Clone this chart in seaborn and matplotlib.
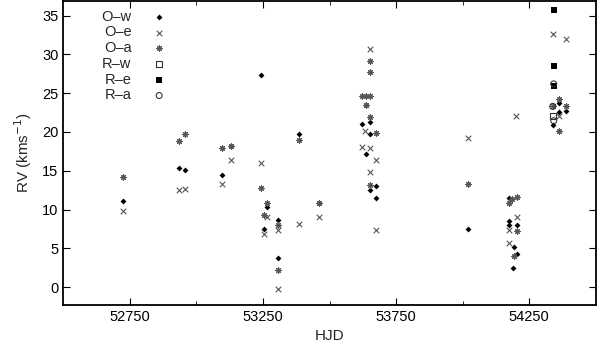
import numpy as np
import pandas as pd
import matplotlib
matplotlib.use("Agg")
import matplotlib.pyplot as plt
import matplotlib.ticker as mticker
import seaborn as sns

# radial velocities
ow_hjd = [52724, 52933, 52959, 53096, 53129, 53241, 53264, 53253, 53305, 53305,
          53387, 53462, 53636, 53652, 53622, 53652, 53636, 53652, 53674, 53674,
          54021, 54175, 54175, 54175, 54205, 54193, 54205, 54189, 54361, 54387,
          54361, 54338]
ow_rv = [11.1, 15.4, 15.1, 14.4, 18.2, 27.4, 10.3, 7.5, 8.6, 3.8,
         19.8, 10.9, 23.5, 21.3, 21.0, 19.7, 17.1, 12.5, 13.0, 11.5,
         7.45, 11.5, 8.5, 8.0, 8.0, 5.2, 4.3, 2.5, 23.7, 22.65,
         22.6, 20.9]

oe_hjd = [52724, 52933, 52959, 53129, 53096, 53241, 53264, 53253, 53305, 53305,
          53387, 53462, 53652, 53634, 53622, 53652, 53674, 53652, 53674, 54021,
          54201, 54205, 54175, 54175, 54338, 54387, 54361]
oe_rv = [9.8, 12.5, 12.7, 16.4, 13.3, 16.0, 9.0, 6.9, 7.4, -0.2,
         8.1, 9.1, 30.7, 20.1, 18.1, 17.9, 16.4, 14.8, 7.4, 19.2,
         22.1, 9.0, 7.4, 5.65, 32.6, 32.0, 22.0]

oa_hjd = [52724, 52933, 52959, 53096, 53129, 53241, 53264, 53253, 53305, 53305,
          53387, 53462, 53652, 53652, 53622, 53636, 53652, 53636, 53652, 53674,
          53652, 54021, 54184, 54205, 54175, 54205, 54193, 54361, 54338, 54387,
          54361]
oa_rv = [14.25, 18.9, 19.7, 17.9, 18.2, 12.75, 10.9, 9.25, 8.0, 2.2,
         18.95, 10.9, 29.1, 27.7, 24.6, 24.7, 24.6, 23.5, 21.9, 19.9,
         13.2, 13.3, 11.35, 11.6, 10.9, 7.2, 4.0, 24.3, 23.3, 23.3,
         20.1]

rw_hjd = [54338]
rw_rv = [22.05]
re_hjd = [54342, 54342, 54342]
re_rv = [35.7, 28.5, 25.9]
ra_hjd = [54342, 54338, 54342]
ra_rv = [26.2, 23.3, 21.45]

sns.set_style("ticks")
plt.rcParams.update({
    "font.family": ["Liberation Sans", "DejaVu Sans"],
    "xtick.direction": "in", "ytick.direction": "in",
    "xtick.top": True, "ytick.right": True,
    "axes.linewidth": 1.3, "axes.edgecolor": "black",
    "xtick.major.size": 5, "ytick.major.size": 5, "xtick.minor.size": 3,
    "xtick.color": "black", "ytick.color": "black",
    "xtick.labelsize": 10.5, "ytick.labelsize": 10.5,
})

fig = plt.figure(figsize=(5.97, 3.46), dpi=100)
ax = fig.add_axes([0.106, 0.1185, 0.892, 0.879])

groups = [
    ("O\u2013w", ow_hjd, ow_rv, dict(marker="D", s=9, color="black", linewidth=0)),
    ("O\u2013e", oe_hjd, oe_rv, dict(marker="x", s=16, color="#555555", linewidth=0.8)),
    ("O\u2013a", oa_hjd, oa_rv, dict(marker=(8, 2, 0), s=15, color="#555555", linewidth=0.8)),
    ("R\u2013w", rw_hjd, rw_rv, dict(marker="s", s=20, facecolor="none", edgecolor="#333333", linewidth=0.8)),
    ("R\u2013e", re_hjd, re_rv, dict(marker="s", s=20, color="black", linewidth=0)),
    ("R\u2013a", ra_hjd, ra_rv, dict(marker="o", s=18, facecolor="none", edgecolor="#333333", linewidth=0.8)),
]
for name, hx, hy, kw in groups:
    df = pd.DataFrame({"HJD": hx, "RV": hy})
    sns.scatterplot(data=df, x="HJD", y="RV", ax=ax, label=name, **kw)

ax.set_xlim(52500, 54500)
ax.set_ylim(-2.3, 36.9)
ax.xaxis.set_major_locator(mticker.FixedLocator([52750, 53250, 53750, 54250]))
ax.xaxis.set_minor_locator(mticker.FixedLocator([53000, 53500, 54000]))
ax.yaxis.set_major_locator(mticker.MultipleLocator(5))
ax.tick_params(which="both", top=True, right=True, direction="in")
ax.set_xlabel("HJD", fontsize=11)
ax.set_ylabel("RV (kms$^{-1}$)", fontsize=11, labelpad=6)

leg = ax.legend(loc="upper left", bbox_to_anchor=(0.055, 1.0), frameon=False,
                markerfirst=False, fontsize=10.5, labelspacing=0.12,
                handletextpad=0.9, borderaxespad=0.2)

fig.savefig("out.png", dpi=100)
